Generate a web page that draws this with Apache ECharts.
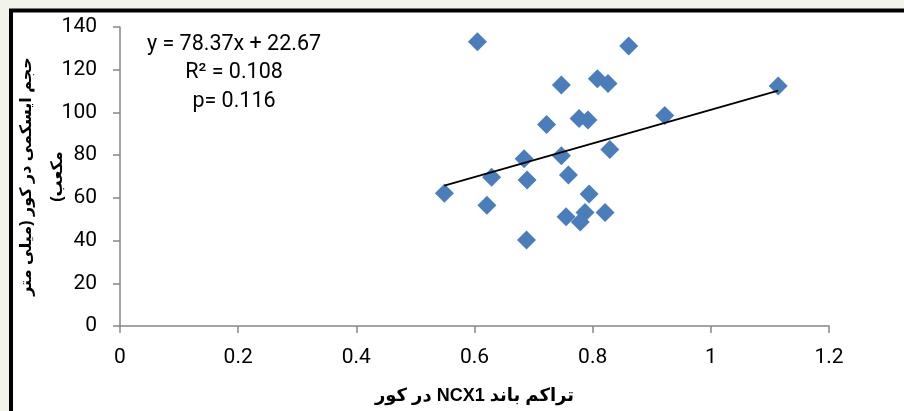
<!DOCTYPE html>
<html>
<head>
<meta charset="utf-8">
<script src="https://cdn.jsdelivr.net/npm/echarts@6/dist/echarts.min.js"></script>
<style>
  html, body { margin: 0; padding: 0; background: #F2F4EC; }
  #chart { width: 904px; height: 411px; }
</style>
</head>
<body>
<div id="chart"></div>
<script>
// Data
const ncx1Values = [0.605, 0.861, 0.747, 0.808, 0.826, 1.114, 0.722, 0.777, 0.792, 0.922, 0.829, 0.684, 0.747, 0.629, 0.759, 0.689, 0.549, 0.794, 0.621, 0.755, 0.787, 0.779, 0.821, 0.688];
const ischemiaValues = [133.1, 131.1, 112.8, 115.8, 113.6, 112.4, 94.4, 97.1, 96.5, 98.6, 82.7, 78.3, 79.7, 69.6, 70.7, 68.4, 62.1, 61.8, 56.5, 51.2, 53.1, 48.7, 53.1, 40.3];
const trendX = [0.549, 1.114];
const trendY = [65.7, 110.2];
const equationLines = ['y = 78.37x + 22.67', 'R\u00B2 = 0.108', 'p= 0.116'];
const xAxisTitle = 'تراکم باند NCX1 در کور';
const yAxisTitleLines = ['حجم ایسکمی در کور (میلی متر', 'مکعب)'];

const RLE = '\u202B', PDF = '\u202C';
const rtl = s => RLE + s + PDF;

const points = ncx1Values.map((x, i) => [x, ischemiaValues[i]]);
const trend = trendX.map((x, i) => [x, trendY[i]]);

const chart = echarts.init(document.getElementById('chart'), null, { renderer: 'canvas' });
const axisColor = '#868686';
const numFont = 'Roboto';
const faFont = "'Liberation Sans', 'DejaVu Sans', sans-serif";

chart.setOption({
  backgroundColor: '#F2F4EC',
  animation: false,
  graphic: [
    {
      type: 'rect', z: -10, silent: true,
      shape: { x: 11, y: 10.5, width: 1200, height: 1200 },
      style: { fill: '#FFFFFF', stroke: '#000000', lineWidth: 4 }
    },
    {
      type: 'text', z: 10, silent: true,
      x: 234, y: 30,
      style: {
        text: equationLines.join('\n'),
        fontFamily: numFont, fontSize: 21.5, lineHeight: 28.5,
        fill: '#000000', align: 'center', verticalAlign: 'top'
      }
    }
  ],
  grid: { left: 120, right: 75, top: 27, bottom: 85, containLabel: false, outerBoundsMode: 'none' },
  xAxis: {
    type: 'value', min: 0, max: 1.2, interval: 0.2,
    name: rtl(xAxisTitle), nameLocation: 'middle', nameGap: 61, nameMoveOverlap: false,
    nameTextStyle: { fontFamily: faFont, fontWeight: 'bold', fontSize: 18, color: '#000' },
    axisLine: { show: true, lineStyle: { color: axisColor, width: 1.5 } },
    axisTick: { show: true, inside: false, length: 7, lineStyle: { color: axisColor, width: 1.5 } },
    axisLabel: { fontFamily: numFont, fontSize: 21, color: '#000', margin: 21 },
    splitLine: { show: false }
  },
  yAxis: {
    type: 'value', min: 0, max: 140, interval: 20,
    name: yAxisTitleLines.map(rtl).join('\n'), nameLocation: 'middle', nameGap: 47, nameRotate: 90, nameMoveOverlap: false,
    nameTextStyle: { fontFamily: faFont, fontWeight: 'bold', fontSize: 16, color: '#000', lineHeight: 31, align: 'center' },
    axisLine: { show: true, lineStyle: { color: axisColor, width: 1.5 } },
    axisTick: { show: true, inside: false, length: 7, lineStyle: { color: axisColor, width: 1.5 } },
    axisLabel: { fontFamily: numFont, fontSize: 21, color: '#000', margin: 23 },
    splitLine: { show: false }
  },
  series: [
    {
      type: 'scatter', data: points, symbol: 'diamond', symbolSize: 19,
      itemStyle: { color: '#4A7EBB', opacity: 1 }
    },
    {
      type: 'line', data: trend, showSymbol: false, symbol: 'none',
      lineStyle: { color: '#000000', width: 1.8 }
    }
  ]
});
</script>
</body>
</html>
